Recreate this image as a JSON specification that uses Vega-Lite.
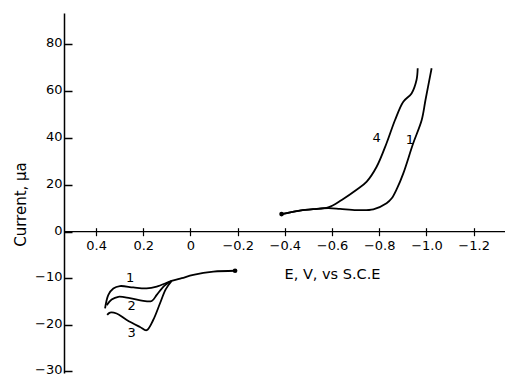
{
  "$schema": "https://vega.github.io/schema/vega-lite/v6.json",
  "width": 441,
  "height": 360,
  "autosize": "none",
  "padding": {"left": 64, "top": 13, "right": 0, "bottom": 4},
  "background": "white",
  "config": {
    "view": {"stroke": null},
    "font": "DejaVu Sans",
    "axis": {"labelFont": "DejaVu Sans", "titleFont": "DejaVu Sans", "labelColor": "black", "titleColor": "black", "domainColor": "black", "tickColor": "black", "grid": false, "labelFontSize": 13, "titleFontSize": 14, "titleFontWeight": "normal"}
  },
  "datasets": {
    "curves": [
      {"curve": "u4", "i": 0, "E": -0.386, "I": 7.5},
      {"curve": "u4", "i": 1, "E": -0.457, "I": 8.9},
      {"curve": "u4", "i": 2, "E": -0.52, "I": 9.6},
      {"curve": "u4", "i": 3, "E": -0.584, "I": 10.3},
      {"curve": "u4", "i": 4, "E": -0.641, "I": 13.5},
      {"curve": "u4", "i": 5, "E": -0.704, "I": 17.8},
      {"curve": "u4", "i": 6, "E": -0.747, "I": 21.3},
      {"curve": "u4", "i": 7, "E": -0.789, "I": 27.6},
      {"curve": "u4", "i": 8, "E": -0.831, "I": 37.6},
      {"curve": "u4", "i": 9, "E": -0.867, "I": 47.5},
      {"curve": "u4", "i": 10, "E": -0.902, "I": 55.3},
      {"curve": "u4", "i": 11, "E": -0.937, "I": 58.8},
      {"curve": "u4", "i": 12, "E": -0.958, "I": 64.5},
      {"curve": "u4", "i": 13, "E": -0.963, "I": 69.5},
      {"curve": "u1", "i": 0, "E": -0.386, "I": 7.5},
      {"curve": "u1", "i": 1, "E": -0.457, "I": 8.9},
      {"curve": "u1", "i": 2, "E": -0.52, "I": 9.6},
      {"curve": "u1", "i": 3, "E": -0.584, "I": 10.0},
      {"curve": "u1", "i": 4, "E": -0.634, "I": 9.7},
      {"curve": "u1", "i": 5, "E": -0.704, "I": 9.2},
      {"curve": "u1", "i": 6, "E": -0.775, "I": 9.5},
      {"curve": "u1", "i": 7, "E": -0.831, "I": 12.1},
      {"curve": "u1", "i": 8, "E": -0.853, "I": 14.2},
      {"curve": "u1", "i": 9, "E": -0.876, "I": 18.5},
      {"curve": "u1", "i": 10, "E": -0.902, "I": 24.8},
      {"curve": "u1", "i": 11, "E": -0.944, "I": 37.6},
      {"curve": "u1", "i": 12, "E": -0.98, "I": 47.5},
      {"curve": "u1", "i": 13, "E": -0.996, "I": 56.0},
      {"curve": "u1", "i": 14, "E": -1.022, "I": 69.5},
      {"curve": "l1", "i": 0, "E": -0.189, "I": -8.4},
      {"curve": "l1", "i": 1, "E": -0.097, "I": -8.6},
      {"curve": "l1", "i": 2, "E": -0.012, "I": -9.3},
      {"curve": "l1", "i": 3, "E": 0.037, "I": -10.0},
      {"curve": "l1", "i": 4, "E": 0.08, "I": -10.6},
      {"curve": "l1", "i": 5, "E": 0.143, "I": -11.8},
      {"curve": "l1", "i": 6, "E": 0.186, "I": -12.2},
      {"curve": "l1", "i": 7, "E": 0.242, "I": -12.0},
      {"curve": "l1", "i": 8, "E": 0.299, "I": -11.7},
      {"curve": "l1", "i": 9, "E": 0.327, "I": -12.2},
      {"curve": "l1", "i": 10, "E": 0.348, "I": -13.6},
      {"curve": "l1", "i": 11, "E": 0.362, "I": -16.5},
      {"curve": "l2", "i": 0, "E": 0.08, "I": -10.6},
      {"curve": "l2", "i": 1, "E": 0.11, "I": -11.6},
      {"curve": "l2", "i": 2, "E": 0.143, "I": -13.6},
      {"curve": "l2", "i": 3, "E": 0.164, "I": -14.9},
      {"curve": "l2", "i": 4, "E": 0.2, "I": -14.9},
      {"curve": "l2", "i": 5, "E": 0.257, "I": -14.3},
      {"curve": "l2", "i": 6, "E": 0.306, "I": -14.0},
      {"curve": "l2", "i": 7, "E": 0.334, "I": -14.6},
      {"curve": "l2", "i": 8, "E": 0.355, "I": -15.8},
      {"curve": "l3", "i": 0, "E": 0.08, "I": -10.6},
      {"curve": "l3", "i": 1, "E": 0.105, "I": -12.4},
      {"curve": "l3", "i": 2, "E": 0.129, "I": -15.4},
      {"curve": "l3", "i": 3, "E": 0.158, "I": -19.0},
      {"curve": "l3", "i": 4, "E": 0.186, "I": -21.2},
      {"curve": "l3", "i": 5, "E": 0.214, "I": -20.5},
      {"curve": "l3", "i": 6, "E": 0.27, "I": -19.0},
      {"curve": "l3", "i": 7, "E": 0.313, "I": -17.6},
      {"curve": "l3", "i": 8, "E": 0.341, "I": -17.4},
      {"curve": "l3", "i": 9, "E": 0.353, "I": -17.9}
    ],
    "dots": [
      {"E": -0.386, "I": 7.5},
      {"E": -0.189, "I": -8.4}
    ],
    "labels": [
      {"E": -0.789, "I": 39.7, "t": "4"},
      {"E": -0.93, "I": 39.0, "t": "1"},
      {"E": 0.256, "I": -9.9, "t": "1"},
      {"E": 0.249, "I": -16.0, "t": "2"},
      {"E": 0.249, "I": -21.9, "t": "3"}
    ]
  },
  "layer": [
    {
      "data": {"values": [{"z": 0}]},
      "mark": {"type": "rule", "color": "black", "strokeWidth": 1.3},
      "encoding": {"y": {"field": "z", "type": "quantitative", "scale": {"domain": [-30.4, 0, 93], "range": [360, 218.7, 0], "nice": false, "zero": false}}}
    },
    {
      "data": {"name": "curves"},
      "mark": {"type": "line", "color": "black", "strokeWidth": 1.8, "interpolate": "catmull-rom"},
      "encoding": {
        "x": {"field": "E", "type": "quantitative",
          "scale": {"domain": [0.536, -1.333], "nice": false, "zero": false},
          "axis": {"values": [0.4, 0.2, 0, -0.2, -0.4, -0.6, -0.8, -1.0, -1.2], "labelExpr": "datum.value == 0 ? '0' : format(datum.value, '.1f')", "domain": false, "offset": -145.3, "tickSize": 8, "tickWidth": 1.2, "labelPadding": 4, "title": "E, V, vs S.C.E", "titleFontSize": 14.5, "titleX": 268, "titleY": 47, "titleAlign": "center", "titleBaseline": "middle"}},
        "y": {"field": "I", "type": "quantitative",
          "scale": {"domain": [-30.4, 0, 93], "range": [360, 218.7, 0], "nice": false, "zero": false},
          "axis": {"values": [-30, -20, -10, 0, 20, 40, 60, 80], "domainWidth": 1.5, "tickSize": -8, "tickWidth": 1.5, "labelPadding": 10, "labelOffset": -1.5, "title": "Current, μa", "titleFontSize": 15, "titleX": -44, "titleY": 191, "titleAlign": "center", "titleBaseline": "middle", "titleAngle": -90}},
        "detail": {"field": "curve"},
        "order": {"field": "i", "type": "quantitative"}
      }
    },
    {
      "data": {"name": "dots"},
      "mark": {"type": "point", "filled": true, "color": "black", "size": 22, "opacity": 1},
      "encoding": {
        "x": {"field": "E", "type": "quantitative"},
        "y": {"field": "I", "type": "quantitative"}
      }
    },
    {
      "data": {"name": "labels"},
      "mark": {"type": "text", "color": "black", "fontSize": 13, "font": "DejaVu Sans"},
      "encoding": {
        "x": {"field": "E", "type": "quantitative"},
        "y": {"field": "I", "type": "quantitative"},
        "text": {"field": "t"}
      }
    }
  ]
}
